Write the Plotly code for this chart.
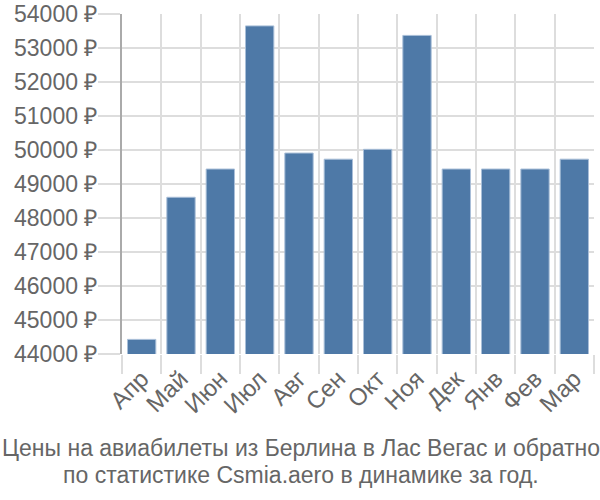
import plotly.graph_objects as go

months = ["Апр", "Май", "Июн", "Июл", "Авг", "Сен", "Окт", "Ноя", "Дек", "Янв", "Фев", "Мар"]
prices = [44430, 48610, 49440, 53650, 49910, 49730, 50020, 53370, 49440, 49440, 49440, 49730]
y_ticks = [44000, 45000, 46000, 47000, 48000, 49000, 50000, 51000, 52000, 53000, 54000]
y_labels = [f"{v} ₽" for v in y_ticks]
title_lines = ["Цены на авиабилеты из Берлина в Лас Вегас и обратно",
               "по статистике Csmia.aero в динамике за год."]

fig = go.Figure(go.Bar(
    x=months, y=prices,
    marker=dict(color="#4e79a7", line=dict(color="#a9bfd8", width=1)),
))

fig.update_layout(
    width=600, height=500,
    margin=dict(l=122, r=6, t=14, b=146, autoexpand=False),
    plot_bgcolor="white", paper_bgcolor="white",
    bargap=0.28,
    showlegend=False,
    font=dict(family="Liberation Sans, Arial, sans-serif", color="#666666"),
)
fig.update_xaxes(
    type="category", automargin=False,
    tickson="boundaries", ticks="outside", ticklen=19, tickcolor="#dddddd", tickwidth=2,
    showgrid=True, gridcolor="#dddddd", gridwidth=2,
    tickangle=-45, tickfont=dict(size=24), ticklabelstandoff=5,
    showline=False,
)
fig.update_yaxes(
    range=[44000, 54000], automargin=False,
    tickvals=y_ticks, ticktext=y_labels,
    ticks="outside", ticklen=22, tickcolor="#dddddd", tickwidth=2,
    showgrid=True, gridcolor="#dddddd", gridwidth=2,
    tickfont=dict(size=23), ticklabelstandoff=-4,
    showline=True, linecolor="#aaaaaa", linewidth=2,
    zeroline=False,
)
for i, line in enumerate(title_lines):
    fig.add_annotation(
        text=line, xref="paper", yref="paper",
        x=(301 - 122) / 472, y=0,
        xanchor="center", yanchor="middle", yshift=-(448 + 27.3 * i - 354),
        showarrow=False,
        font=dict(family="Liberation Sans, Arial", size=23, color="#666666"),
    )
fig.write_html(
    "out.html",
    config={"displayModeBar": False},
    post_script="document.body.style.margin='0';document.body.style.overflow='hidden';",
)
